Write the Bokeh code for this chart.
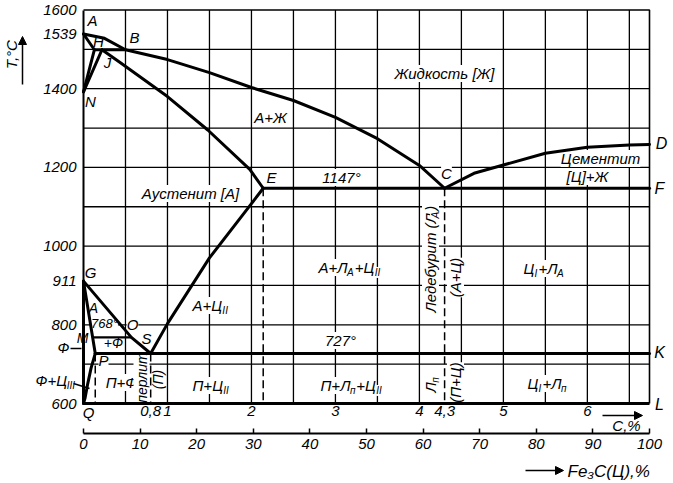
import math
from bokeh.plotting import figure
from bokeh.models import (Range1d, LinearAxis, FixedTicker, Label, Arrow, NormalHead,
                          CustomJSTickFormatter)
from bokeh.embed import file_html
from bokeh.resources import INLINE

# ------------------------------------------------------------------
# Values (carbon content in %, temperature in °C)
# ------------------------------------------------------------------
C_MAX = 6.74            # right border of the drawing (= 100 % Fe3C)
T_MIN, T_MAX = 600, 1600

liquidus_ABC_c = [0.0, 0.25, 0.50, 1.0, 1.5, 2.0, 2.5, 3.0, 3.5, 4.0, 4.3]
liquidus_ABC_t = [1539, 1528, 1499, 1474, 1441, 1403, 1370, 1327, 1273, 1205, 1147]
liquidus_CD_c = [4.3, 4.65, 5.0, 5.5, 6.0, 6.5, C_MAX]
liquidus_CD_t = [1147, 1185, 1206, 1236, 1251, 1257, 1258]
solidus_AH_c, solidus_AH_t = [0.0, 0.13], [1539, 1499]
line_HN_c, line_HN_t = [0.13, 0.0], [1499, 1392]
line_JN_c, line_JN_t = [0.22, 0.0], [1499, 1392]
peritectic_HJB_c, peritectic_HJB_t = [0.13, 0.50], [1499, 1499]
solidus_JE_c = [0.22, 0.44, 1.0, 1.48, 1.98, 2.14]
solidus_JE_t = [1499, 1466, 1380, 1295, 1195, 1147]
eutectic_ECF_c, eutectic_ECF_t = [2.14, C_MAX], [1147, 1147]
acm_ES_c = [2.14, 2.0, 1.5, 1.0, 0.8]
acm_ES_t = [1147, 1108, 970, 803, 727]
a3_GOS_c, a3_GOS_t = [0.0, 0.57, 0.8], [911, 768, 727]
line_GP_c, line_GP_t = [0.0, 0.14], [911, 727]
solvus_PQ_c = [0.14, 0.09, 0.05, 0.02, 0.0]
solvus_PQ_t = [727, 690, 650, 615, 600]
eutectoid_PSK_c, eutectoid_PSK_t = [0.14, C_MAX], [727, 727]
curie_MO_c, curie_MO_t = [0.11, 0.57], [768, 768]
ferrite_GQ_c, ferrite_GQ_t = [0.0, 0.0], [911, 600]

dashed_c = [0.14, 0.80, 2.14, 4.30]
dashed_top_t = [727, 727, 1147, 1147]

temp_ticks = [600, 800, 911, 1000, 1200, 1400, 1539, 1600]
carbon_ticks = [0.8, 1, 2, 3, 4, 4.3, 5, 6]
fe3c_ticks = [0, 10, 20, 30, 40, 50, 60, 70, 80, 90, 100]
grid_c = [0.5, 1.0, 1.5, 2.0, 2.5, 3.0, 3.5, 4.0, 4.5, 5.0, 5.5, 6.0, 6.5]
grid_t = [700, 800, 900, 1000, 1100, 1200, 1300, 1400, 1500]

FONT = "Liberation Sans"

# ------------------------------------------------------------------
# layout: the diagram box occupies pixels X0..X1 / Y0..Y1 of the canvas
FIG_W, FIG_H = 673, 483
X0, X1, Y0, Y1 = 83.0, 649.0, 9.5, 403.0
PX_PER_C = (X1 - X0) / C_MAX
PX_PER_T = (Y1 - Y0) / (T_MAX - T_MIN)


def cx(px):
    return (px - X0) / PX_PER_C


def ty(py):
    return T_MAX - (py - Y0) / PX_PER_T


p = figure(width=FIG_W, height=FIG_H,
           x_range=Range1d(cx(0), cx(FIG_W)), y_range=Range1d(ty(FIG_H), ty(0)),
           x_axis_type=None, y_axis_type=None,
           output_backend="svg", toolbar_location=None, min_border=0)
p.background_fill_color = "white"
p.border_fill_color = "white"
p.outline_line_color = None

# grid (under the labels, which mask it)
p.segment(x0=grid_c, y0=[T_MIN] * len(grid_c), x1=grid_c, y1=[T_MAX] * len(grid_c),
          line_color="black", line_width=1.3, level="underlay")
p.segment(x0=[0] * len(grid_t), y0=grid_t, x1=[C_MAX] * len(grid_t), y1=grid_t,
          line_color="black", line_width=1.3, level="underlay")
# top and right border of the diagram
p.multi_line([[0, C_MAX, C_MAX]], [[T_MAX, T_MAX, T_MIN]], line_color="black",
             line_width=1.6, level="overlay")


def style_axis(ax, size="15px"):
    ax.minor_tick_in = 0
    ax.minor_tick_out = 0
    ax.major_label_text_font = FONT
    ax.major_label_text_font_style = "italic"
    ax.major_label_text_font_size = size
    ax.major_label_text_color = "black"
    ax.axis_line_color = "black"
    ax.major_tick_line_color = "black"


# temperature axis
ya = LinearAxis(fixed_location=0, bounds=(T_MIN, T_MAX), ticker=FixedTicker(ticks=temp_ticks))
style_axis(ya)
ya.major_tick_in = 0
ya.major_tick_out = 0
ya.axis_line_width = 2
ya.major_label_standoff = 7
p.add_layout(ya, "left")

# carbon axis (line L)
xa = LinearAxis(fixed_location=T_MIN, bounds=(0, C_MAX), ticker=FixedTicker(ticks=carbon_ticks))
style_axis(xa)
xa.formatter = CustomJSTickFormatter(code="return tick.toString().replace('.', ',');")
xa.major_tick_in = 0
xa.major_tick_out = 0
xa.axis_line_width = 3
xa.major_label_standoff = 2
p.add_layout(xa, "below")

# Fe3C axis
p.extra_x_ranges = {"fe3c": Range1d(cx(0) / C_MAX * 100, cx(FIG_W) / C_MAX * 100)}
fa = LinearAxis(x_range_name="fe3c", fixed_location=ty(433), bounds=(0, 100),
                ticker=FixedTicker(ticks=fe3c_ticks))
style_axis(fa)
fa.major_tick_in = 5
fa.major_tick_out = 0
fa.axis_line_width = 2
fa.major_tick_line_width = 1.5
fa.major_label_standoff = 5
p.add_layout(fa, "below")

# phase boundaries
solid_xs = [liquidus_ABC_c, liquidus_CD_c, solidus_AH_c, line_HN_c, line_JN_c, peritectic_HJB_c,
            solidus_JE_c, eutectic_ECF_c, acm_ES_c, a3_GOS_c, line_GP_c, solvus_PQ_c,
            eutectoid_PSK_c, ferrite_GQ_c]
solid_ys = [liquidus_ABC_t, liquidus_CD_t, solidus_AH_t, line_HN_t, line_JN_t, peritectic_HJB_t,
            solidus_JE_t, eutectic_ECF_t, acm_ES_t, a3_GOS_t, line_GP_t, solvus_PQ_t,
            eutectoid_PSK_t, ferrite_GQ_t]
p.multi_line(solid_xs, solid_ys, line_color="black", line_width=3, line_join="round",
             line_cap="round", level="overlay")
p.line(curie_MO_c, curie_MO_t, line_color="black", line_width=2.2, level="overlay")
p.segment(x0=dashed_c, y0=dashed_top_t, x1=dashed_c, y1=[T_MIN] * len(dashed_c),
          line_color="black", line_width=1.5, line_dash="8 4", level="overlay")

# ------------------------------------------------------------------
# texts (positions measured on the reference, in px)
W = {'A': .667, 'Ж': .923, 'Л': .656, 'Ц': .74, 'П': .719, 'Ф': .76, '+': .584, 'I': .278,
     'п': .542, '(': .333, ')': .333, ' ': .278, 'е': .556, 'д': .583, 'б': .573, 'у': .5,
     'р': .556, 'и': .559, 'т': .458}


def text_width(s):
    return sum(W.get(ch, .55) for ch in s)


def add_label(txt, px, py, size=15, align="center", angle=0.0, mask=True):
    lab = Label(x=cx(px), y=ty(py), text=txt, text_font=FONT, text_font_style="italic",
                text_font_size=f"{size}px", text_color="black", text_align=align,
                text_baseline="middle", angle=angle, level="glyph")
    if mask:
        lab.background_fill_color = "white"
    p.add_layout(lab)


def text_run(x0, y0, parts, size=15, angle=0.0):
    sub = round(size * 0.7)
    pos = 0.0
    for txt, is_sub in parts:
        fs = sub if is_sub else size
        off = 0.33 * size if is_sub else 0.0
        if angle == 0:
            add_label(txt, x0 + pos, y0 + off, fs, "left", 0.0)
        else:
            add_label(txt, x0 + off, y0 - pos, fs, "left", angle)
        pos += text_width(txt) * fs + (1 if is_sub else 0)


simple_labels = [
    ("A", 92, 20, 15), ("H", 98, 41, 15), ("B", 134, 37, 15), ("J", 107, 62, 15),
    ("N", 90, 101, 15), ("Жидкость [Ж]", 444, 73, 15), ("A+Ж", 270, 117, 15),
    ("Аустенит [A]", 190, 193, 15), ("E", 271, 177, 15), ("1147°", 341, 177, 15),
    ("C", 446, 173, 15), ("Цементит", 600, 158, 15), ("[Ц]+Ж", 587, 176, 15),
    ("D", 661, 143, 16), ("F", 659, 188, 16), ("K", 659, 352, 16), ("L", 659, 404, 16),
    ("727°", 340, 340, 15), ("G", 90, 272, 15), ("A", 93, 307, 14), ("768°", 104, 323, 13),
    ("O", 132, 324, 15), ("+Ф", 113, 342, 14), ("M", 82, 337, 14), ("S", 146, 338, 15),
    ("P", 103, 360, 15), ("П+Ф", 121, 382, 15), ("Q", 88, 412, 15), ("Ф", 63, 347, 15),
    ("C,%", 626, 425, 15),
]
for t, x, y, s in simple_labels:
    add_label(t, x, y, s)

runs = [
    (318, 267, [("A+Л", False), ("A", True), ("+Ц", False), ("II", True)]),
    (523, 268, [("Ц", False), ("I", True), ("+Л", False), ("A", True)]),
    (192, 305, [("A+Ц", False), ("II", True)]),
    (192, 385, [("П+Ц", False), ("II", True)]),
    (320, 385, [("П+Л", False), ("п", True), ("+Ц", False), ("II", True)]),
    (527, 383, [("Ц", False), ("I", True), ("+Л", False), ("п", True)]),
    (35, 380, [("Ф+Ц", False), ("III", True)]),
]
for x, y, parts in runs:
    text_run(x, y, parts)

V = math.pi / 2
text_run(430, 312, [("Ледебурит (Л", False), ("A", True), (")", False)], 15, V)
text_run(430, 392, [("Л", False), ("п", True)], 15, V)
add_label("(A+Ц)", 455, 277, 15, "center", V)
add_label("(П+Ц)", 455, 382, 15, "center", V)
add_label("перлит", 141, 377, 14, "center", V)
add_label("(П)", 157, 379, 14, "center", V)
add_label("T,°C", 11, 54, 15, "center", V, mask=False)
add_label("Fe₃C(Ц),%", 567, 471, 17, "left", 0.0, mask=False)


def add_arrow(x0, y0, x1, y1, head=True):
    a = Arrow(x_start=cx(x0), y_start=ty(y0), x_end=cx(x1), y_end=ty(y1),
              line_color="black", line_width=1.5,
              end=NormalHead(size=8, fill_color="black", line_color="black") if head else None,
              start=None)
    p.add_layout(a)


add_arrow(22, 84, 22, 36)          # T,°C
add_arrow(602, 415, 642, 415)      # C,%
add_arrow(525, 470, 563, 470)      # Fe3C
add_arrow(70, 348, 81, 348, False)  # Ф leader
add_arrow(73, 383, 89, 388, False)  # Ф+Ц III leader

with open("out.html", "w") as f:
    f.write(file_html(p, INLINE))
